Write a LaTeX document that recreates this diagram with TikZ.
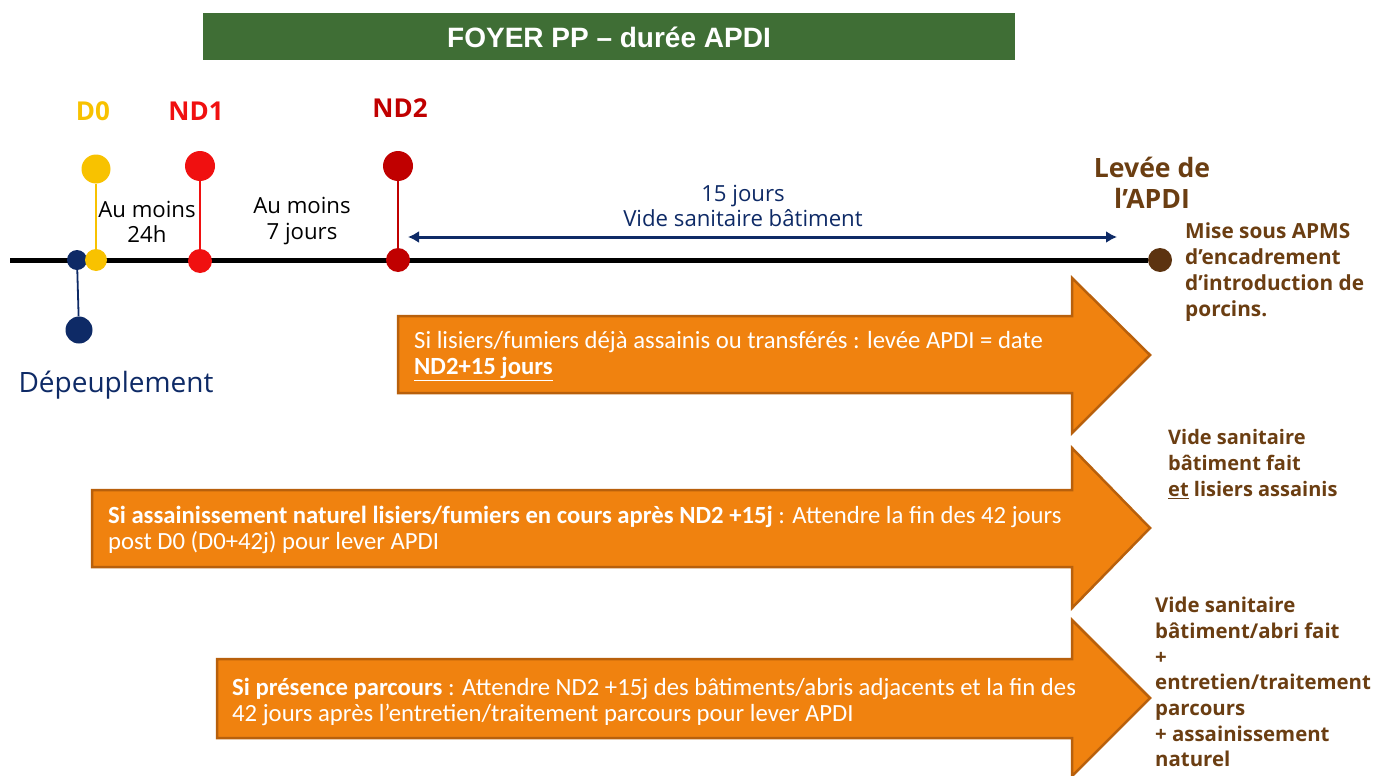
\documentclass[tikz,border=0pt]{standalone}
\usepackage{fontspec}
\usetikzlibrary{arrows.meta}
\setmainfont{Open Sans}
\newfontfamily\arrowfont{Carlito}
\newfontfamily\titlefont{Liberation Sans}
\definecolor{titlegreen}{HTML}{3F6E35}
\definecolor{navy}{HTML}{0E2A66}
\definecolor{dzero}{HTML}{F8C200}
\definecolor{ndone}{HTML}{F01010}
\definecolor{ndtwo}{HTML}{C00000}
\definecolor{brownish}{HTML}{6B3E12}
\definecolor{dotbrown}{HTML}{5C3310}
\definecolor{orangefill}{HTML}{F0820F}
\definecolor{orangeedge}{HTML}{B8600C}
\tikzset{
  x=1pt, y=-1pt,
  dot/.style={circle, fill=#1, inner sep=0pt},
  stem/.style={line width=1.8pt},
  bigarrow/.style={fill=orangefill, draw=orangeedge, line width=2.5pt, line join=miter},
  arrtext/.style={anchor=west, align=left, text=white, font=\arrowfont\fontsize{24.7}{26}\selectfont, inner sep=0pt},
  sidetext/.style={anchor=north west, align=left, text=brownish, font=\bfseries\fontsize{20.2}{25.8}\selectfont, inner sep=0pt},
  lbl/.style={font=\bfseries\fontsize{26}{30}\selectfont, inner sep=0pt},
  small/.style={font=\fontsize{22.2}{25.5}\selectfont, align=center, inner sep=0pt},
}
\begin{document}
\begin{tikzpicture}
\useasboundingbox (0,0) rectangle (1373,776);
% title
\node[fill=titlegreen, minimum width=812pt, minimum height=47pt, inner sep=0pt,
  text=white, font=\titlefont\bfseries\fontsize{28}{30}\selectfont] (title) at (609,37) {FOYER PP – durée APDI};

% timeline
\coordinate (tstart) at (10,260);
\node[dot=dotbrown, minimum size=24pt] (lev) at (1160,260) {};
\draw[line width=5pt] (tstart) -- (lev.west);

% depeuplement
\node[dot=navy, minimum size=20pt] (dep1) at (77,260) {};
\node[dot=navy, minimum size=27pt] (dep2) at (79,330) {};
\draw[stem, navy] (dep1) -- (dep2);
\node[text=navy, font=\fontsize{28}{30}\selectfont, inner sep=0pt] (deplbl) at (116,385) {Dépeuplement};

% D0
\node[dot=dzero, minimum size=22pt] (d0b) at (96,260) {};
\node[dot=dzero, minimum size=29pt] (d0t) at (96,169) {};
\draw[stem, dzero] (d0t) -- (d0b);
\node[lbl, text=dzero] (d0lbl) at (93,111) {D0};

% ND1
\node[dot=ndone, minimum size=24pt] (nd1b) at (200,261) {};
\node[dot=ndone, minimum size=30pt] (nd1t) at (200,166) {};
\draw[stem, ndone] (nd1t) -- (nd1b);
\node[lbl, text=ndone] (nd1lbl) at (196,111) {ND1};

% ND2
\node[dot=ndtwo, minimum size=24pt] (nd2b) at (398,260) {};
\node[dot=ndtwo, minimum size=30pt] (nd2t) at (398,166) {};
\draw[stem, ndtwo] (nd2t) -- (nd2b);
\node[lbl, text=ndtwo] (nd2lbl) at (400,108) {ND2};

% intervals
\node[small] (am1) at (147,222) {Au moins\\24h};
\node[small] (am2) at (302,221) {Au moins\\7 jours};

% 15 jours arrow
\coordinate (va) at (408,237);
\coordinate (vb) at (1117,237);
\draw[navy, line width=3pt, {Latex[length=11pt,width=12pt]}-{Latex[length=11pt,width=12pt]}] (va) -- (vb);
\node[small, text=navy] (vs) at (743,206) {15 jours\\Vide sanitaire bâtiment};

% levee
\node[lbl, text=brownish, align=center, font=\bfseries\fontsize{26.6}{31}\selectfont] (levlbl) at (1152,183) {Levée de\\l’APDI};
\node[sidetext, font=\bfseries\fontsize{20.8}{26}\selectfont] (apms) at (1185,222) {Mise sous APMS\\d’encadrement\\d’introduction de\\porcins.};

% big arrows
\draw[bigarrow] (398,316) -- (1072,316) -- (1072,278) -- (1150,355) -- (1072,433) -- (1072,393) -- (398,393) -- cycle;
\node[arrtext] (a1) at (414,356) {Si lisiers/fumiers déjà assainis ou transférés : levée APDI = date\\\underline{\bfseries ND2+15 jours}};

\draw[bigarrow] (92,490) -- (1072,490) -- (1072,448) -- (1150,528) -- (1072,608) -- (1072,567) -- (92,567) -- cycle;
\node[arrtext] (a2) at (108,530) {\bfseries Si assainissement naturel lisiers/fumiers en cours après ND2 +15j \mdseries: Attendre la fin des 42 jours\\post D0 (D0+42j) pour lever APDI};

\draw[bigarrow] (217,659) -- (1072,659) -- (1072,620) -- (1150,698) -- (1072,776) -- (1072,738) -- (217,738) -- cycle;
\node[arrtext] (a3) at (232,702) {\textbf{Si présence parcours} : Attendre ND2 +15j des bâtiments/abris adjacents et la fin des\\42 jours après l’entretien/traitement parcours pour lever APDI};

% side texts
\node[sidetext, font=\bfseries\fontsize{20}{26}\selectfont] (vs1) at (1168,429) {Vide sanitaire\\bâtiment fait\\\underline{et} lisiers assainis};
\node[sidetext, font=\bfseries\fontsize{20.4}{25.7}\selectfont] (vs2) at (1155,597) {Vide sanitaire\\bâtiment/abri fait\\+\\entretien/traitement\\parcours\\+ assainissement\\naturel};
\end{tikzpicture}
\end{document}
